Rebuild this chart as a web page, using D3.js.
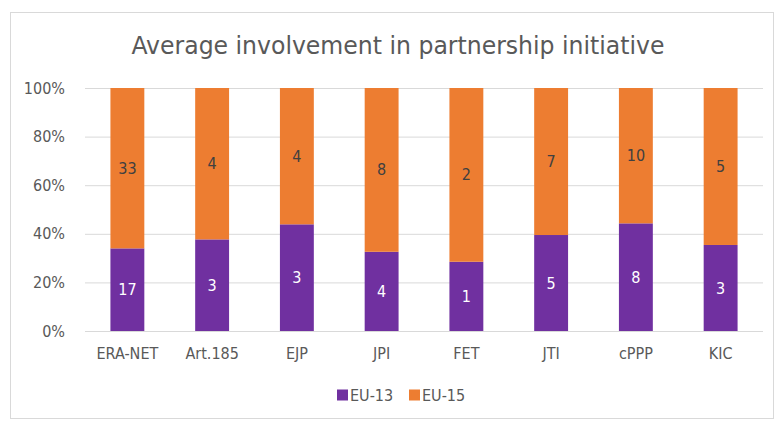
<!DOCTYPE html>
<html><head><meta charset="utf-8">
<script src="https://cdn.jsdelivr.net/npm/d3@7"></script>
<style>body{margin:0;background:#fff;}svg{display:block;font-family:"Liberation Sans Narrow","DejaVu Sans Condensed",sans-serif;}</style>
</head><body>
<svg id="c" width="774" height="424"></svg>
<script>
const categories = ["ERA-NET","Art.185","EJP","JPI","FET","JTI","cPPP","KIC"];
const eu13Share = [34.0, 37.7, 43.9, 32.6, 28.5, 39.5, 44.3, 35.4];
const eu13Labels = [17, 3, 3, 4, 1, 5, 8, 3];
const eu15Labels = [33, 4, 4, 8, 2, 7, 10, 5];
const yTicks = [0, 20, 40, 60, 80, 100];
const seriesNames = ["EU-13", "EU-15"];
const colors = ["#7030A0", "#ED7D31"];
const title = "Average involvement in partnership initiative";

(function () {
const FF = '"Liberation Sans Narrow","DejaVu Sans Condensed",sans-serif';
const svg = d3.select("#c");
svg.append("rect").attr("x",10.5).attr("y",12.5).attr("width",763).attr("height",406)
  .attr("fill","#fff").attr("stroke","#d9d9d9");

const pL = 85, pR = 763, pT = 88, pB = 331;
const x = d3.scaleBand().domain(categories).range([pL, pR]).paddingInner(0.6).paddingOuter(0.3);
const y = d3.scaleLinear().domain([0, 100]).range([pB, pT]);

svg.append("g").selectAll("line").data(yTicks).join("line")
  .attr("x1", pL).attr("x2", pR)
  .attr("y1", d => y(d) + 0.5).attr("y2", d => y(d) + 0.5)
  .attr("stroke", "#d9d9d9").attr("stroke-width", 1);

const ya = svg.append("g").attr("transform", `translate(${pL},0)`)
  .call(d3.axisLeft(y).tickValues(yTicks).tickFormat(d => d + "%").tickSize(0).tickPadding(20));
ya.select(".domain").remove();
ya.attr("font-family", FF).attr("font-size", 16);
ya.selectAll("text").attr("fill", "#595959");

const xa = svg.append("g").attr("transform", `translate(0,${pB})`)
  .call(d3.axisBottom(x).tickSize(0).tickPadding(17));
xa.select(".domain").remove();
xa.attr("font-family", FF).attr("font-size", 16);
xa.selectAll("text").attr("fill", "#595959");

const data = categories.map((c, i) => ({cat: c, a: eu13Share[i], b: 100 - eu13Share[i], la: eu13Labels[i], lb: eu15Labels[i]}));
const stack = d3.stack().keys(["a", "b"])(data);
const labelKeys = ["la", "lb"];
const labelColors = ["#ffffff", "#404040"];

stack.forEach((s, si) => {
  const g = svg.append("g");
  g.selectAll("rect").data(s).join("rect")
    .attr("x", d => x(d.data.cat)).attr("width", x.bandwidth())
    .attr("y", d => y(d[1])).attr("height", d => y(d[0]) - y(d[1]))
    .attr("fill", colors[si]);
  g.selectAll("text").data(s).join("text")
    .attr("x", d => x(d.data.cat) + x.bandwidth() / 2)
    .attr("y", d => (y(d[0]) + y(d[1])) / 2)
    .attr("dy", "0.35em").attr("text-anchor", "middle")
    .attr("fill", labelColors[si]).style("font-size", "16px")
    .text(d => d.data[labelKeys[si]]);
});

const t = svg.append("text").attr("x", 398).attr("y", 54).attr("text-anchor", "middle")
  .attr("fill", "#595959").style("font-size", "25px").text(title);
const tw = t.node().getComputedTextLength();
if (Math.abs(tw - 533) > 4) t.attr("textLength", 533).attr("lengthAdjust", "spacingAndGlyphs");

const lg = svg.append("g").attr("transform", "translate(0,395)");
const legendX = [337, 409];
seriesNames.forEach((n, i) => {
  lg.append("rect").attr("x", legendX[i]).attr("y", -5.5).attr("width", 11).attr("height", 11).attr("fill", colors[i]);
  lg.append("text").attr("x", legendX[i] + 13).attr("y", 0).attr("dy", "0.35em")
    .attr("fill", "#595959").style("font-size", "16px").text(n);
});
})();
</script>
</body></html>
